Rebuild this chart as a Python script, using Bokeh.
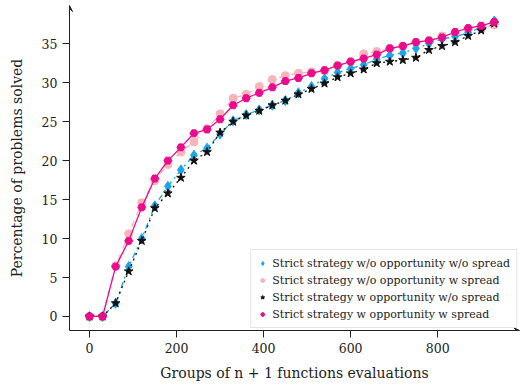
from bokeh.plotting import figure
from bokeh.models import (Range1d, FixedTicker, Legend, LegendItem, Arrow, VeeHead,
                          ColumnDataSource)
from bokeh.embed import file_html
from bokeh.resources import INLINE

groups = [0, 30, 60, 90, 120, 150, 180, 210, 240, 270, 300, 330, 360, 390, 420, 450,
          480, 510, 540, 570, 600, 630, 660, 690, 720, 750, 780, 810, 840, 870, 900, 930]

wo_opp_wo_spread = [0, 0, 1.7, 6.4, 10.0, 14.2, 16.7, 18.8, 20.7, 21.6, 23.4, 25.1, 25.9, 26.5,
                    27.1, 27.7, 28.7, 29.5, 30.5, 31.3, 31.8, 32.3, 33.0, 33.5, 33.8, 34.4,
                    35.0, 35.6, 35.9, 36.4, 37.1, 37.9]
wo_opp_w_spread = [0, 0, 6.5, 10.6, 14.6, 17.4, 19.5, 21.1, 22.4, 24.1, 26.0, 28.0, 28.5, 29.5,
                   30.4, 30.9, 31.2, 31.4, 31.5, 32.2, 32.7, 33.7, 34.0, 34.4, 34.7, 35.2,
                   35.4, 36.0, 36.2, 36.8, 36.9, 37.4]
w_opp_wo_spread = [0, 0, 1.7, 5.8, 9.7, 13.9, 15.8, 17.8, 20.0, 21.1, 23.6, 25.0, 25.8, 26.4,
                   27.1, 27.7, 28.5, 29.2, 29.9, 30.7, 31.2, 31.7, 32.5, 32.7, 32.9, 33.2,
                   34.2, 34.7, 35.2, 36.0, 36.7, 37.6]
w_opp_w_spread = [0, 0, 6.4, 9.7, 14.0, 17.7, 20.0, 21.7, 23.5, 24.0, 25.3, 27.1, 28.0, 28.7,
                  29.4, 30.2, 30.6, 31.2, 31.6, 32.2, 32.7, 33.1, 33.6, 34.4, 34.7, 35.2,
                  35.4, 35.8, 36.5, 37.0, 37.3, 37.8]

labels = ["Strict strategy w/o opportunity w/o spread",
          "Strict strategy w/o opportunity w spread",
          "Strict strategy w opportunity w/o spread",
          "Strict strategy w opportunity w spread"]
x_ticks = [0, 200, 400, 600, 800]
y_ticks = [0, 5, 10, 15, 20, 25, 30, 35]

FONT = "DejaVu Serif"

p = figure(width=520, height=386, output_backend="svg", toolbar_location=None,
           x_range=Range1d(-46, 988), y_range=Range1d(-1.8, 39.9),
           min_border_left=69, min_border_right=1, min_border_top=5, min_border_bottom=56)
p.outline_line_color = None
p.xgrid.visible = False
p.ygrid.visible = False

for ax in (p.xaxis[0], p.yaxis[0]):
    ax.axis_line_color = "#222222"
    ax.axis_line_width = 1
    ax.major_tick_line_color = "#222222"
    ax.major_tick_in = 0
    ax.major_tick_out = 7
    ax.minor_tick_line_color = None
    ax.major_label_text_font = FONT
    ax.major_label_text_font_size = "12.5px"
    ax.major_label_text_color = "#222222"
    ax.axis_label_text_font = FONT
    ax.axis_label_text_font_size = "14px"
    ax.axis_label_text_font_style = "normal"
    ax.axis_label_text_color = "#222222"

p.xaxis.ticker = FixedTicker(ticks=x_ticks)
p.yaxis.ticker = FixedTicker(ticks=y_ticks)
p.xaxis.axis_label = "Groups of n + 1 functions evaluations"
p.yaxis.axis_label = "Percentage of problems solved"
p.xaxis.major_label_standoff = 5
p.xaxis.axis_label_standoff = 9
p.yaxis.major_label_standoff = 5
p.yaxis.axis_label_standoff = 14

# axis arrows
p.add_layout(Arrow(end=VeeHead(size=6, line_color="#222222", fill_color="#222222", line_width=1),
                   x_start=p.x_range.end - 5, y_start=p.y_range.start,
                   x_end=p.x_range.end, y_end=p.y_range.start, line_color="#222222", line_width=1))
p.add_layout(Arrow(end=VeeHead(size=6, line_color="#222222", fill_color="#222222", line_width=1),
                   x_start=p.x_range.start, y_start=p.y_range.end - 0.2,
                   x_end=p.x_range.start, y_end=p.y_range.end, line_color="#222222", line_width=1))

series = [
    (wo_opp_w_spread, "#f9b3ba", "dashed", "circle", 8),
    (wo_opp_wo_spread, "#1aa6e8", "dashdot", "diamond", 10),
    (w_opp_wo_spread, "#111111", "dotted", "star", 9),
    (w_opp_w_spread, "#ec0b8c", "solid", "hex", 8),
]
renderers = {}
for idx, (vals, col, dash, marker, size) in enumerate(series):
    src = ColumnDataSource(dict(x=groups, y=vals))
    p.line("x", "y", source=src, line_color=col, line_dash=dash, line_width=1.3)
    r = p.scatter("x", "y", source=src, marker=marker, size=size, fill_color=col,
                  line_color=col)
    renderers[idx] = r

items = [
    LegendItem(label=labels[0], renderers=[renderers[1]]),
    LegendItem(label=labels[1], renderers=[renderers[0]]),
    LegendItem(label=labels[2], renderers=[renderers[2]]),
    LegendItem(label=labels[3], renderers=[renderers[3]]),
]
legend = Legend(items=items, location="bottom_right", margin=2, padding=6, spacing=3,
                glyph_width=10, glyph_height=14, label_height=14, label_standoff=5,
                label_text_font=FONT, label_text_font_size="11px",
                label_text_color="#222222",
                border_line_color="#cccccc", border_line_width=1,
                background_fill_color="white", background_fill_alpha=1.0)
p.add_layout(legend, "center")

open("out.html", "w").write(file_html(p, INLINE))
